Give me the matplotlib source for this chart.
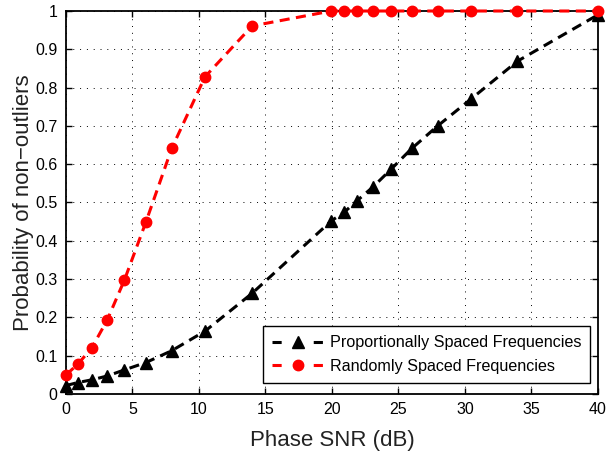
import matplotlib
matplotlib.use("Agg")
import matplotlib.pyplot as plt
from matplotlib.lines import Line2D

plt.rcParams['font.family'] = ['Liberation Sans', 'DejaVu Sans']

snr = [0, 0.9, 1.95, 3.1, 4.4, 6.0, 7.95, 10.45, 14.0, 19.95, 20.9, 21.9, 23.1, 24.45, 26.0, 27.95, 30.45, 33.95, 40.0]
prop = [0.022, 0.030, 0.037, 0.047, 0.063, 0.082, 0.113, 0.164, 0.263, 0.452, 0.474, 0.505, 0.541, 0.587, 0.641, 0.700, 0.770, 0.869, 0.990]
rand_ = [0.050, 0.078, 0.121, 0.193, 0.298, 0.448, 0.641, 0.828, 0.961, 1, 1, 1, 1, 1, 1, 1, 1, 1, 1]
labels = ['Proportionally Spaced Frequencies', 'Randomly Spaced Frequencies']

xticks = list(range(0, 41, 5))
yticks = [0, 0.1, 0.2, 0.3, 0.4, 0.5, 0.6, 0.7, 0.8, 0.9, 1]
yticklabels = ['0', '0.1', '0.2', '0.3', '0.4', '0.5', '0.6', '0.7', '0.8', '0.9', '1']

fig = plt.figure(figsize=(6.07, 4.51), dpi=100)
ax = fig.add_axes([0.1087, 0.1264, 0.8763, 0.8492])

ax.plot(snr, prop, color='black', linestyle=(0, (3.3, 2.1)), linewidth=2.2,
        marker='^', markersize=9, markerfacecolor='black', markeredgecolor='black',
        clip_on=False, zorder=3)
ax.plot(snr, rand_, color='red', linestyle=(0, (3.3, 2.1)), linewidth=2.2,
        marker='o', markersize=7.5, markerfacecolor='red', markeredgecolor='red',
        clip_on=False, zorder=3)

ax.set_xlim(0, 40)
ax.set_ylim(0, 1)
ax.set_xticks(xticks)
ax.set_yticks(yticks)
ax.set_yticklabels(yticklabels)
ax.grid(True, color='black', linestyle=(0, (1, 6)), linewidth=0.7)
ax.tick_params(direction='in', top=True, right=True, labelsize=11.5, length=4, width=1, pad=6)
for s in ax.spines.values():
    s.set_linewidth(1.3)

ax.set_xlabel('Phase SNR (dB)', fontsize=16, color='#222222', labelpad=9)
ax.set_ylabel('Probability of non\u2212outliers', fontsize=16, color='#222222', labelpad=1)

handles = [
    Line2D([], [], color='black', linestyle=(0, (3.0, 10.5)), linewidth=2.2,
           marker='^', markersize=8, markerfacecolor='black', markeredgecolor='black'),
    Line2D([], [], color='red', linestyle=(0, (3.0, 10.5)), linewidth=2.2,
           marker='o', markersize=7.5, markerfacecolor='red', markeredgecolor='red'),
]
leg = ax.legend(handles, labels, loc='lower right', fontsize=11.6, frameon=True, fancybox=False,
                edgecolor='black', framealpha=1, borderpad=0.55, handlelength=3.2,
                handletextpad=0.35, borderaxespad=0,
                bbox_to_anchor=(0.985, 0.029), labelspacing=0.55)
leg.get_frame().set_linewidth(1.0)

fig.savefig('out.png', dpi=100)
